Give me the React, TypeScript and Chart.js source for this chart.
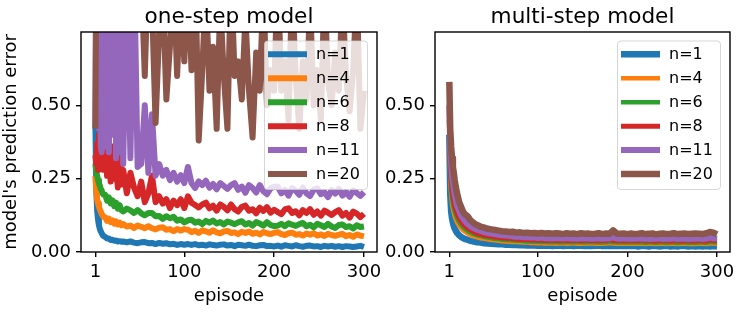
import React, { useEffect, useRef } from "react";
import { Chart, registerables } from "chart.js";

Chart.register(...registerables);

const FONT = "'DejaVu Sans', 'Noto Sans', sans-serif";

const EPISODES = [
  1, 2, 3, 4, 5, 6, 7, 8, 9, 10,
  12, 14, 16, 18, 20, 22, 24, 26, 28, 30,
  32, 36, 40, 44, 48, 52, 56, 60, 64, 68, 72, 76, 80, 84, 88, 92, 96, 100,
  104, 108, 112, 116, 120, 124, 128, 132, 136, 140, 144, 148, 152, 156, 160, 164, 168, 172, 176, 180, 184, 188, 192, 196, 200,
  204, 208, 212, 216, 220, 224, 228, 232, 236, 240, 244, 248, 252, 256, 260, 264, 268, 272, 276, 280, 284, 288, 292, 296, 300,
];

const SERIES_LABELS = ["n=1", "n=4", "n=6", "n=8", "n=11", "n=20"];
const COLORS = ["#1f77b4", "#ff7f0e", "#2ca02c", "#d62728", "#9467bd", "#8c564b"];
const X_TICKS = [1, 100, 200, 300];
const Y_TICKS = [0, 0.25, 0.5];
const TITLES = ["one-step model", "multi-step model"];
const X_LABEL = "episode";
const Y_LABEL = "model's prediction error";

// ---- one-step model ----
const ONE_N1 = [
  0.44, 0.21, 0.14, 0.11, 0.09, 0.078, 0.07, 0.064, 0.058, 0.055,
  0.051, 0.046, 0.046, 0.041, 0.042, 0.038, 0.039, 0.036, 0.037, 0.035,
  0.036, 0.033, 0.036, 0.032, 0.03, 0.033, 0.034, 0.03, 0.031, 0.027, 0.031, 0.028, 0.03, 0.026, 0.028, 0.024, 0.027, 0.025,
  0.027, 0.024, 0.027, 0.023, 0.025, 0.022, 0.026, 0.024, 0.022, 0.025, 0.026, 0.022, 0.024, 0.02, 0.025, 0.023, 0.021, 0.025, 0.021, 0.02, 0.023, 0.024, 0.02, 0.021, 0.019,
  0.022, 0.018, 0.023, 0.021, 0.019, 0.023, 0.02, 0.018, 0.021, 0.022, 0.019, 0.02, 0.017, 0.021, 0.019, 0.021, 0.018, 0.02, 0.017, 0.02, 0.019, 0.017, 0.019, 0.021, 0.017,
];
const ONE_N4 = [
  0.26, 0.21, 0.18, 0.165, 0.155, 0.145, 0.138, 0.13, 0.125, 0.12,
  0.118, 0.106, 0.114, 0.102, 0.108, 0.097, 0.104, 0.094, 0.1, 0.091,
  0.095, 0.087, 0.09, 0.082, 0.09, 0.086, 0.081, 0.088, 0.081, 0.077, 0.083, 0.084, 0.076, 0.078, 0.071, 0.078, 0.073, 0.078,
  0.076, 0.068, 0.072, 0.065, 0.074, 0.07, 0.066, 0.074, 0.067, 0.064, 0.07, 0.072, 0.065, 0.067, 0.061, 0.069, 0.065, 0.07, 0.062, 0.066, 0.06, 0.068, 0.064, 0.061, 0.065,
  0.068, 0.061, 0.058, 0.064, 0.066, 0.059, 0.061, 0.056, 0.063, 0.059, 0.064, 0.056, 0.06, 0.055, 0.062, 0.058, 0.055, 0.059, 0.062, 0.054, 0.058, 0.052, 0.06, 0.056, 0.053,
];
const ONE_N6 = [
  0.3, 0.275, 0.26, 0.245, 0.235, 0.225, 0.215, 0.21, 0.2, 0.195,
  0.195, 0.175, 0.186, 0.166, 0.176, 0.156, 0.168, 0.148, 0.16, 0.142,
  0.138, 0.148, 0.142, 0.133, 0.143, 0.132, 0.125, 0.133, 0.133, 0.122, 0.123, 0.113, 0.122, 0.115, 0.12, 0.107, 0.111, 0.101,
  0.108, 0.11, 0.1, 0.104, 0.095, 0.106, 0.1, 0.107, 0.097, 0.102, 0.094, 0.104, 0.1, 0.095, 0.101, 0.105, 0.094, 0.099, 0.09, 0.102, 0.097, 0.09, 0.102, 0.092, 0.088,
  0.09, 0.096, 0.088, 0.098, 0.093, 0.089, 0.095, 0.099, 0.088, 0.093, 0.084, 0.096, 0.091, 0.085, 0.096, 0.087, 0.082, 0.092, 0.094, 0.085, 0.088, 0.08, 0.091, 0.085, 0.087,
];
const ONE_N8 = [
  0.33, 0.3, 0.37, 0.28, 0.4, 0.31, 0.45, 0.63, 0.34, 0.28,
  0.38, 0.26, 0.33, 0.24, 0.36, 0.25, 0.3, 0.22, 0.34, 0.23,
  0.28, 0.2, 0.27, 0.22, 0.19, 0.24, 0.17, 0.2, 0.26, 0.17, 0.19, 0.165, 0.18, 0.15, 0.175, 0.16, 0.18, 0.15,
  0.19, 0.168, 0.16, 0.152, 0.162, 0.168, 0.149, 0.158, 0.141, 0.162, 0.154, 0.142, 0.162, 0.146, 0.138, 0.154, 0.158, 0.141, 0.146, 0.132, 0.151, 0.14, 0.153, 0.134, 0.144,
  0.136, 0.129, 0.145, 0.149, 0.133, 0.139, 0.125, 0.143, 0.133, 0.146, 0.127, 0.138, 0.124, 0.141, 0.134, 0.126, 0.136, 0.143, 0.124, 0.133, 0.117, 0.138, 0.131, 0.119, 0.13,
];
const ONE_N11 = [
  0.44, 1.0, 0.5, 1.1, 0.42, 0.9, 0.36, 0.34, 0.38, 1.0,
  0.36, 1.0, 0.34, 0.9, 0.4, 1.1, 0.32, 0.95, 0.34, 0.85,
  0.3, 0.95, 0.32, 1.0, 0.29, 0.3, 0.5, 0.27, 0.47, 0.26, 0.3, 0.26, 0.28, 0.245, 0.27, 0.24, 0.262, 0.235,
  0.29, 0.235, 0.218, 0.241, 0.228, 0.243, 0.219, 0.232, 0.214, 0.235, 0.225, 0.215, 0.228, 0.235, 0.212, 0.223, 0.202, 0.228, 0.218, 0.203, 0.228, 0.207, 0.197, 0.217, 0.222,
  0.223, 0.2, 0.212, 0.192, 0.218, 0.209, 0.195, 0.22, 0.2, 0.191, 0.212, 0.217, 0.197, 0.204, 0.187, 0.211, 0.199, 0.215, 0.192, 0.205, 0.188, 0.21, 0.201, 0.191, 0.204,
];
const ONE_N20 = [
  0.42, 0.95, 1.0, 0.9, 1.1, 0.95, 1.2, 0.9, 1.0, 0.95,
  1.1, 0.9, 1.0, 0.95, 1.2, 0.9, 1.0, 0.95, 1.1, 0.9,
  1.0, 0.95, 1.1, 0.9, 1.0, 0.95, 0.6, 1.0, 0.85, 0.44, 0.75, 0.9, 0.52, 0.7, 0.95, 0.6, 0.9, 0.65,
  0.95, 0.62, 1.0, 0.38, 0.62, 0.9, 0.55, 0.7, 0.42, 0.85, 0.6, 0.42, 0.95, 0.6, 0.65, 0.52, 0.8, 0.55, 0.39, 0.68, 0.55, 0.9, 0.5, 0.62, 0.55,
  0.95, 0.55, 0.65, 0.45, 0.9, 0.6, 0.42, 0.65, 0.52, 0.85, 0.5, 0.62, 0.45, 0.9, 0.58, 0.5, 0.68, 0.55, 0.88, 0.6, 0.48, 0.62, 0.9, 0.42, 0.55,
];

// ---- multi-step model ----
const MULTI_N1 = [
  0.4, 0.2, 0.14, 0.115, 0.1, 0.088, 0.08, 0.074, 0.068, 0.064,
  0.057, 0.052, 0.048, 0.045, 0.043, 0.041, 0.039, 0.037, 0.036, 0.035,
  0.033, 0.032, 0.03, 0.029, 0.028, 0.027, 0.026, 0.026, 0.025, 0.025, 0.024, 0.024, 0.023, 0.023, 0.022, 0.022, 0.022, 0.021,
  0.022, 0.021, 0.022, 0.02, 0.021, 0.022, 0.02, 0.021, 0.021, 0.02, 0.022, 0.021, 0.02, 0.021, 0.02, 0.021, 0.022, 0.02, 0.021, 0.02, 0.021, 0.02, 0.021, 0.02, 0.021,
  0.02, 0.021, 0.019, 0.021, 0.02, 0.019, 0.021, 0.02, 0.019, 0.02, 0.021, 0.019, 0.02, 0.019, 0.021, 0.02, 0.019, 0.02, 0.019, 0.02, 0.019, 0.02, 0.019, 0.02, 0.019,
];
const MULTI_N4 = [
  0.42, 0.25, 0.195, 0.165, 0.147, 0.133, 0.122, 0.113, 0.105, 0.099,
  0.089, 0.081, 0.075, 0.07, 0.066, 0.062, 0.059, 0.056, 0.054, 0.052,
  0.05, 0.047, 0.045, 0.043, 0.041, 0.04, 0.038, 0.037, 0.036, 0.035, 0.034, 0.034, 0.033, 0.032, 0.032, 0.031, 0.031, 0.03,
  0.03, 0.029, 0.03, 0.029, 0.028, 0.03, 0.029, 0.028, 0.029, 0.03, 0.028, 0.029, 0.028, 0.029, 0.03, 0.028, 0.029, 0.028, 0.029, 0.031, 0.029, 0.028, 0.029, 0.028, 0.029,
  0.028, 0.029, 0.028, 0.029, 0.027, 0.029, 0.028, 0.027, 0.029, 0.028, 0.027, 0.029, 0.028, 0.027, 0.028, 0.029, 0.027, 0.028, 0.027, 0.029, 0.028, 0.027, 0.03, 0.029, 0.028,
];
const MULTI_N6 = [
  0.43, 0.27, 0.215, 0.185, 0.165, 0.15, 0.138, 0.128, 0.12, 0.113,
  0.102, 0.093, 0.086, 0.08, 0.075, 0.071, 0.067, 0.064, 0.061, 0.059,
  0.057, 0.054, 0.051, 0.049, 0.047, 0.045, 0.044, 0.042, 0.041, 0.04, 0.039, 0.038, 0.038, 0.037, 0.036, 0.036, 0.035, 0.035,
  0.034, 0.035, 0.033, 0.034, 0.033, 0.034, 0.032, 0.034, 0.033, 0.032, 0.034, 0.033, 0.032, 0.033, 0.034, 0.032, 0.033, 0.032, 0.033, 0.035, 0.033, 0.032, 0.033, 0.032, 0.033,
  0.032, 0.033, 0.032, 0.033, 0.031, 0.033, 0.032, 0.031, 0.033, 0.032, 0.031, 0.033, 0.032, 0.031, 0.032, 0.033, 0.031, 0.032, 0.031, 0.033, 0.032, 0.031, 0.034, 0.033, 0.032,
];
const MULTI_N8 = [
  0.45, 0.3, 0.245, 0.21, 0.19, 0.172, 0.158, 0.146, 0.136, 0.128,
  0.115, 0.105, 0.097, 0.09, 0.085, 0.08, 0.076, 0.072, 0.069, 0.066,
  0.063, 0.06, 0.057, 0.055, 0.053, 0.051, 0.05, 0.048, 0.047, 0.046, 0.045, 0.044, 0.043, 0.043, 0.042, 0.041, 0.042, 0.04,
  0.041, 0.039, 0.04, 0.039, 0.04, 0.038, 0.04, 0.039, 0.038, 0.04, 0.039, 0.038, 0.039, 0.04, 0.038, 0.039, 0.038, 0.04, 0.038, 0.042, 0.039, 0.038, 0.039, 0.038, 0.039,
  0.038, 0.039, 0.038, 0.04, 0.038, 0.039, 0.038, 0.037, 0.039, 0.038, 0.039, 0.037, 0.038, 0.039, 0.037, 0.038, 0.039, 0.037, 0.038, 0.039, 0.038, 0.037, 0.041, 0.039, 0.038,
];
const MULTI_N11 = [
  0.5, 0.36, 0.3, 0.26, 0.235, 0.215, 0.195, 0.18, 0.165, 0.155,
  0.14, 0.125, 0.115, 0.108, 0.1, 0.095, 0.09, 0.085, 0.082, 0.079,
  0.076, 0.072, 0.068, 0.065, 0.063, 0.061, 0.059, 0.057, 0.056, 0.055, 0.053, 0.052, 0.052, 0.05, 0.051, 0.049, 0.05, 0.048,
  0.049, 0.047, 0.048, 0.046, 0.048, 0.047, 0.046, 0.048, 0.046, 0.047, 0.045, 0.047, 0.046, 0.047, 0.045, 0.046, 0.047, 0.045, 0.046, 0.047, 0.05, 0.046, 0.045, 0.047, 0.045,
  0.046, 0.045, 0.047, 0.045, 0.046, 0.044, 0.046, 0.045, 0.047, 0.044, 0.046, 0.045, 0.047, 0.044, 0.046, 0.045, 0.044, 0.046, 0.045, 0.047, 0.044, 0.046, 0.049, 0.047, 0.045,
];
const MULTI_N20 = [
  0.58, 0.42, 0.36, 0.32, 0.29, 0.27, 0.245, 0.225, 0.21, 0.195,
  0.17, 0.155, 0.14, 0.13, 0.125, 0.12, 0.11, 0.105, 0.1, 0.095,
  0.092, 0.086, 0.083, 0.079, 0.077, 0.075, 0.073, 0.071, 0.07, 0.068, 0.069, 0.066, 0.067, 0.065, 0.066, 0.064, 0.065, 0.063,
  0.065, 0.063, 0.064, 0.062, 0.064, 0.063, 0.061, 0.064, 0.062, 0.063, 0.061, 0.064, 0.062, 0.063, 0.061, 0.062, 0.064, 0.061, 0.063, 0.062, 0.074, 0.063, 0.062, 0.063, 0.061,
  0.063, 0.061, 0.062, 0.064, 0.061, 0.062, 0.063, 0.06, 0.062, 0.063, 0.061, 0.062, 0.064, 0.061, 0.062, 0.063, 0.061, 0.062, 0.063, 0.062, 0.061, 0.064, 0.068, 0.066, 0.06,
];

const ONE_STEP = [ONE_N1, ONE_N4, ONE_N6, ONE_N8, ONE_N11, ONE_N20];
const MULTI_STEP = [MULTI_N1, MULTI_N4, MULTI_N6, MULTI_N8, MULTI_N11, MULTI_N20];
const ONE_WIDTHS = [6, 6, 6, 6, 6, 6];
const MULTI_WIDTHS = [6.5, 4.5, 4.5, 5, 6, 6.5];

type PanelProps = {
  title: string;
  series: number[][];
  widths: number[];
  left: number;
  width: number;
  padRight: number;
  yWidth: number;
  showYLabel: boolean;
};

function Panel(p: PanelProps) {
  const ref = useRef<HTMLCanvasElement | null>(null);

  useEffect(() => {
    const canvas = ref.current;
    if (!canvas) return;

    const decor = {
      id: "decor",
      afterDatasetsDraw(chart: any) {
        const { ctx, chartArea: a } = chart;
        const bw = 103;
        const bh = 148.5;
        const bx = a.right - 9.5 - bw;
        const by = a.top + 9;
        ctx.save();
        ctx.beginPath();
        ctx.roundRect(bx, by, bw, bh, 3.2);
        ctx.fillStyle = "rgba(255,255,255,0.8)";
        ctx.fill();
        ctx.lineWidth = 1;
        ctx.strokeStyle = "rgba(204,204,204,0.8)";
        ctx.stroke();
        ctx.font = `16px ${FONT}`;
        ctx.textBaseline = "middle";
        ctx.textAlign = "left";
        SERIES_LABELS.forEach((lab, i) => {
          const cy = by + 13.3 + i * 23.95;
          ctx.beginPath();
          ctx.moveTo(bx + 3.5, cy);
          ctx.lineTo(bx + 42.5, cy);
          ctx.lineWidth = p.widths[i];
          ctx.strokeStyle = COLORS[i];
          ctx.lineCap = "butt";
          ctx.stroke();
          ctx.fillStyle = "#000";
          ctx.fillText(lab, bx + 51.5, cy + 0.5);
        });
        ctx.restore();
      },
      afterDraw(chart: any) {
        const { ctx, chartArea: a } = chart;
        ctx.save();
        ctx.lineWidth = 1.4;
        ctx.strokeStyle = "#000";
        ctx.strokeRect(a.left, a.top, a.right - a.left, a.bottom - a.top);
        ctx.font = `21.6px ${FONT}`;
        ctx.fillStyle = "#000";
        ctx.textAlign = "center";
        ctx.textBaseline = "alphabetic";
        ctx.fillText(p.title, (a.left + a.right) / 2, 22.5);
        ctx.restore();
      },
    };

    const chart = new Chart(canvas, {
      type: "line",
      data: {
        datasets: p.series.map((arr, i) => ({
          label: SERIES_LABELS[i],
          data: EPISODES.map((x, j) => ({ x, y: arr[j] })),
          borderColor: COLORS[i],
          backgroundColor: COLORS[i],
          borderWidth: p.widths[i],
          pointRadius: 0,
          tension: 0,
          fill: false,
          clip: 0,
          order: 5 - i,
          borderJoinStyle: "round",
          borderCapStyle: "butt",
        })),
      },
      options: {
        animation: false,
        responsive: false,
        devicePixelRatio: 1,
        events: [],
        layout: { padding: { left: 0, right: p.padRight, top: 32, bottom: 0 } },
        plugins: {
          legend: { display: false },
          title: { display: false },
          tooltip: { enabled: false },
        },
        scales: {
          x: {
            type: "linear",
            min: -15,
            max: 314.5,
            afterFit: (s: any) => {
              s.height = 61;
            },
            afterBuildTicks: (s: any) => {
              s.ticks = X_TICKS.map((v) => ({ value: v }));
            },
            ticks: {
              autoSkip: false,
              maxRotation: 0,
              padding: 5,
              color: "#000",
              font: { family: FONT, size: 18 },
              callback: (v: any) => String(v),
            },
            grid: {
              display: true,
              drawOnChartArea: false,
              drawTicks: true,
              tickLength: 5,
              tickColor: "#000",
              tickWidth: 1.4,
              color: "#000",
              lineWidth: 1.4,
            },
            border: { display: false },
            title: {
              display: true,
              text: X_LABEL,
              color: "#000",
              font: { family: FONT, size: 18 },
              padding: { top: 0, bottom: 6 },
            },
          },
          y: {
            type: "linear",
            min: 0,
            max: 0.75,
            afterFit: (s: any) => {
              s.width = p.yWidth;
            },
            afterBuildTicks: (s: any) => {
              s.ticks = Y_TICKS.map((v) => ({ value: v }));
            },
            ticks: {
              padding: 5,
              color: "#000",
              font: { family: FONT, size: 18 },
              callback: (v: any) => Number(v).toFixed(2),
            },
            grid: {
              display: true,
              drawOnChartArea: false,
              drawTicks: true,
              tickLength: 5,
              tickColor: "#000",
              tickWidth: 1.4,
              color: "#000",
              lineWidth: 1.4,
            },
            border: { display: false },
            title: {
              display: p.showYLabel,
              text: Y_LABEL,
              color: "#000",
              font: { family: FONT, size: 18 },
              padding: { top: 1, bottom: 0 },
            },
          },
        },
      },
      plugins: [decor],
    } as any);

    return () => chart.destroy();
  }, []);

  return (
    <canvas
      ref={ref}
      width={p.width}
      height={313}
      style={{ position: "absolute", left: p.left, top: 0, width: p.width, height: 313 }}
    />
  );
}

export default function App() {
  return (
    <div
      style={{
        position: "fixed",
        left: 0,
        top: 0,
        width: 747,
        height: 313,
        background: "#fff",
        overflow: "hidden",
      }}
    >
      <Panel
        title={TITLES[0]}
        series={ONE_STEP}
        widths={ONE_WIDTHS}
        left={0}
        width={400}
        padRight={23}
        yWidth={81}
        showYLabel={true}
      />
      <Panel
        title={TITLES[1]}
        series={MULTI_STEP}
        widths={MULTI_WIDTHS}
        left={380}
        width={367}
        padRight={17}
        yWidth={55}
        showYLabel={false}
      />
    </div>
  );
}
